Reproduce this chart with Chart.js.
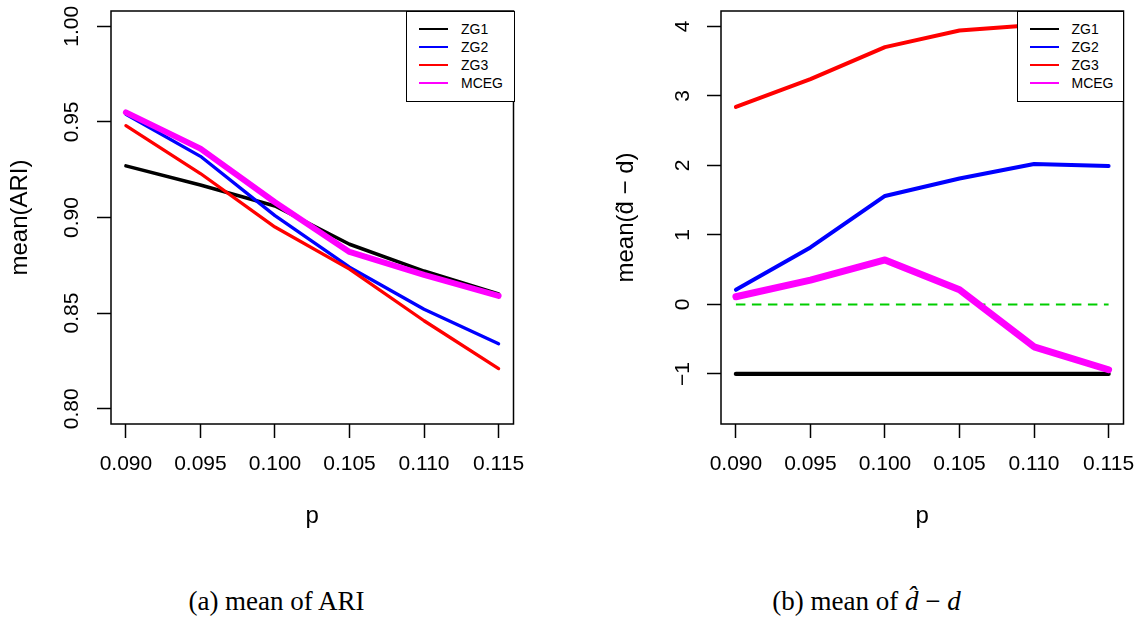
<!DOCTYPE html>
<html>
<head>
<meta charset="utf-8">
<script src="https://cdn.jsdelivr.net/npm/chart.js@4.4.1/dist/chart.umd.min.js"></script>
<style>
html,body{margin:0;padding:0;background:#fff;}
body{width:1139px;height:623px;position:relative;overflow:hidden;font-family:"Liberation Sans",Arial,sans-serif;}
canvas{position:absolute;top:0;}
#cA{left:0;}
#cB{left:600px;}
.legend{position:absolute;top:11px;height:91px;background:#fff;border:1.5px solid #000;box-sizing:border-box;}
.legend .smp{position:absolute;left:12px;width:29px;height:2px;}
.legend .lbl{position:absolute;left:54px;height:18px;line-height:18px;font-size:14px;color:#000;white-space:nowrap;}
.caption{position:absolute;top:588px;width:400px;text-align:center;font-family:"Liberation Serif","Times New Roman",serif;font-size:27px;line-height:27px;white-space:nowrap;color:#000;}
</style>
</head>
<body>
<canvas id="cA" width="560" height="545"></canvas>
<canvas id="cB" width="539" height="545"></canvas>
<div id="legA" class="legend" style="left:406px;width:108.5px;"></div>
<div id="legB" class="legend" style="left:1016.5px;width:107.5px;"></div>
<div class="caption" style="left:76.5px;">(a) mean of ARI</div>
<div class="caption" style="left:666.5px;">(b) mean of <i>d&#770;</i> &minus; <i>d</i></div>
<script>
// ---------- data ----------
const pValues = [0.090, 0.095, 0.100, 0.105, 0.110, 0.115];
const xTicks = [0.090, 0.095, 0.100, 0.105, 0.110, 0.115];
const xTickLabels = ['0.090', '0.095', '0.100', '0.105', '0.110', '0.115'];
const seriesNames = ['ZG1', 'ZG2', 'ZG3', 'MCEG'];
const seriesColors = ['#000000', '#0000FF', '#FF0000', '#FF00FF'];

// panel (a): mean ARI
const ariZG1 = [0.927, 0.917, 0.906, 0.886, 0.872, 0.860];
const ariZG2 = [0.954, 0.932, 0.901, 0.874, 0.852, 0.834];
const ariZG3 = [0.948, 0.923, 0.895, 0.873, 0.846, 0.821];
const ariMCEG = [0.955, 0.936, 0.908, 0.882, 0.870, 0.859];
const ariTicks = [0.80, 0.85, 0.90, 0.95, 1.00];
const ariTickLabels = ['0.80', '0.85', '0.90', '0.95', '1.00'];

// panel (b): mean(d_hat - d)
const dZG1 = [-1, -1, -1, -1, -1, -1];
const dZG2 = [0.21, 0.82, 1.56, 1.81, 2.02, 1.99];
const dZG3 = [2.84, 3.24, 3.70, 3.94, 4.02, 4.03];
const dMCEG = [0.11, 0.35, 0.64, 0.21, -0.61, -0.94];
const refX = [0.090, 0.115];
const refY = [0, 0];
const dTicks = [-1, 0, 1, 2, 3, 4];
const dTickLabels = ['\u22121', '0', '1', '2', '3', '4'];

// ---------- helpers ----------
const FONT = '"Liberation Sans", Arial, sans-serif';
const pts = (xs, ys) => xs.map((x, i) => ({x: x, y: ys[i]}));

const framePlugin = {
  id: 'frame',
  afterDatasetsDraw(chart) {
    const {ctx, chartArea: a} = chart;
    ctx.save();
    ctx.strokeStyle = '#000';
    ctx.lineWidth = 1.5;
    ctx.strokeRect(a.left, a.top, a.right - a.left, a.bottom - a.top);
    ctx.restore();
  }
};

function lineDs(label, ys, color, width, order) {
  return {
    label: label, data: pts(pValues, ys), borderColor: color, backgroundColor: color,
    borderWidth: width, pointRadius: 0, borderCapStyle: 'round', borderJoinStyle: 'round',
    tension: 0, fill: false, order: order
  };
}

function makeChart(id, datasets, cfg) {
  return new Chart(document.getElementById(id), {
    type: 'line',
    data: {datasets: datasets},
    plugins: [framePlugin],
    options: {
      responsive: false, animation: false, devicePixelRatio: 1,
      layout: {padding: {left: 0, top: 11, right: cfg.padRight, bottom: 0}},
      plugins: {legend: {display: false}, tooltip: {enabled: false}},
      scales: {
        x: {
          type: 'linear', min: 0.089, max: 0.116,
          afterBuildTicks: s => { s.ticks = xTicks.map(v => ({value: v})); },
          afterFit: s => { s.height = 121; s.paddingLeft = 0; s.paddingRight = 0; s.paddingTop = 0; s.paddingBottom = 0; },
          border: {display: false},
          grid: {display: true, drawOnChartArea: false, drawTicks: true, tickLength: 14, tickWidth: 1.5, tickColor: '#000', color: '#000'},
          ticks: {padding: 14, color: '#000', font: {family: FONT, size: 21}, maxRotation: 0, minRotation: 0,
                  callback: (v, i) => xTickLabels[i]},
          title: {display: true, text: 'p', color: '#000', font: {family: FONT, size: 24}, padding: {top: 0, bottom: 14.7}}
        },
        y: {
          type: 'linear', min: cfg.yMin, max: cfg.yMax,
          afterBuildTicks: s => { s.ticks = cfg.yTicks.map(v => ({value: v})); },
          afterFit: s => { s.width = cfg.yWidth; s.paddingLeft = 0; s.paddingRight = 0; s.paddingTop = 0; s.paddingBottom = 0; },
          border: {display: false},
          grid: {display: true, drawOnChartArea: false, drawTicks: true, tickLength: 14, tickWidth: 1.5, tickColor: '#000', color: '#000'},
          ticks: {padding: cfg.yPad, color: '#000', font: {family: FONT, size: 21}, minRotation: 90, maxRotation: 90,
                  crossAlign: 'center', callback: (v, i) => cfg.yTickLabels[i]},
          title: {display: true, text: cfg.yTitle, color: '#000', font: {family: FONT, size: 24}, padding: {top: cfg.titlePad, bottom: 0}}
        }
      }
    }
  });
}

makeChart('cA', [
  lineDs(seriesNames[0], ariZG1, seriesColors[0], 3.5, 3),
  lineDs(seriesNames[1], ariZG2, seriesColors[1], 3.3, 2),
  lineDs(seriesNames[2], ariZG3, seriesColors[2], 3.3, 1),
  lineDs(seriesNames[3], ariMCEG, seriesColors[3], 6, 0)
], {padRight: 46.5, yMin: 0.792, yMax: 1.008, yTicks: ariTicks, yTickLabels: ariTickLabels,
    yWidth: 111, yPad: 3.9, yTitle: 'mean(ARI)', titlePad: 5.6});

makeChart('cB', [
  {label: 'ref', data: pts(refX, refY), borderColor: '#00CD00', borderWidth: 2, borderDash: [9.5, 6.5],
   pointRadius: 0, borderCapStyle: 'butt', fill: false, order: 4},
  lineDs(seriesNames[0], dZG1, seriesColors[0], 4.3, 3),
  lineDs(seriesNames[1], dZG2, seriesColors[1], 4, 2),
  lineDs(seriesNames[2], dZG3, seriesColors[2], 4, 1),
  lineDs(seriesNames[3], dMCEG, seriesColors[3], 7, 0)
], {padRight: 15.5, yMin: -1.72, yMax: 4.22, yTicks: dTicks, yTickLabels: dTickLabels,
    yWidth: 121, yPad: 12.3, yTitle: 'mean(d\u0302 \u2212 d)', titlePad: 11.5});

// legends (HTML overlays)
['legA', 'legB'].forEach(id => {
  const el = document.getElementById(id);
  seriesNames.forEach((n, i) => {
    const cy = 18.5 + 18 * i - 1.5;
    const s = document.createElement('div');
    s.className = 'smp'; s.style.top = (cy - 1) + 'px'; s.style.background = seriesColors[i];
    const t = document.createElement('div');
    t.className = 'lbl'; t.style.top = (cy - 9) + 'px'; t.textContent = n;
    el.appendChild(s); el.appendChild(t);
  });
});
</script>
</body>
</html>
